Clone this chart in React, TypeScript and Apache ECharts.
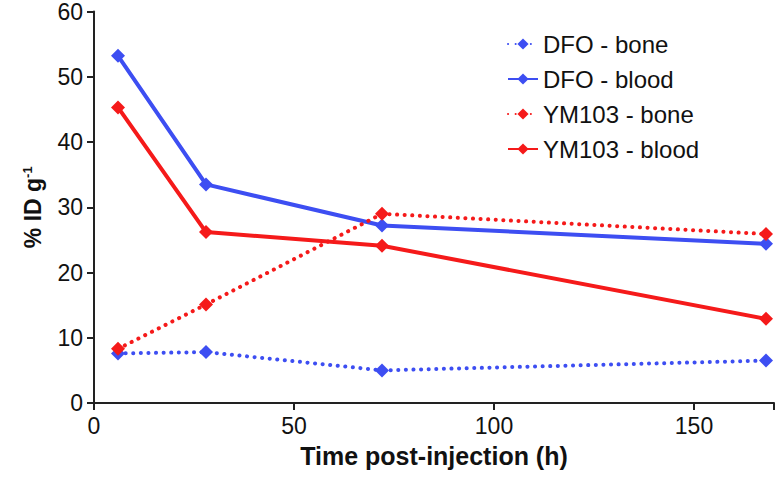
import React, { useEffect, useRef } from "react";
import * as echarts from "echarts";

const times = [6, 28, 72, 168];
const dfoBone = [7.6, 7.8, 5.0, 6.5];
const dfoBlood = [53.2, 33.5, 27.2, 24.4];
const ymBone = [8.3, 15.1, 29.0, 25.9];
const ymBlood = [45.3, 26.2, 24.1, 12.9];
const xTicks = [0, 50, 100, 150];
const yTicks = [0, 10, 20, 30, 40, 50, 60];

const BLUE = "#3d4ef2";
const RED = "#f51a1a";
const FONT = "Liberation Sans, Arial, Helvetica, sans-serif";

function pairs(vals: number[]) {
  return times.map((t, i) => [t, vals[i]]);
}

export default function App() {
  const ref = useRef<HTMLDivElement>(null);
  useEffect(() => {
    if (!ref.current) return;
    const chart = echarts.init(ref.current, undefined, { renderer: "svg" });
    const mk = (name: string, vals: number[], color: string, dotted: boolean) => ({
      name,
      type: "line",
      data: pairs(vals),
      symbol: "diamond",
      symbolSize: 14,
      itemStyle: { color },
      lineStyle: dotted
        ? { color, width: 4, type: [0.1, 7.5], cap: "round" }
        : { color, width: 4 },
    });
    chart.setOption({
      animation: false,
      textStyle: { fontFamily: FONT },
      grid: { left: 94, top: 10, right: 4, bottom: 82, containLabel: false },
      legend: {
        orient: "vertical",
        left: 502,
        top: 27,
        itemGap: 11,
        itemWidth: 30,
        itemHeight: 14,
        textStyle: { fontSize: 24, color: "#111", fontFamily: FONT },
        data: ["DFO - bone", "DFO - blood", "YM103 - bone", "YM103 - blood"],
      },
      xAxis: {
        type: "value",
        min: 0,
        max: 170,
        interval: 50,
        name: "Time post-injection (h)",
        nameLocation: "middle",
        nameGap: 40,
        nameTextStyle: {
          fontSize: 25,
          fontWeight: "bold",
          color: "#111",
          fontFamily: FONT,
        },
        axisLine: { show: true, lineStyle: { color: "#222", width: 2 } },
        axisTick: { show: true, length: 7, lineStyle: { color: "#222", width: 2 } },
        axisLabel: {
          fontSize: 23,
          color: "#111",
          margin: 11,
          fontFamily: FONT,
          formatter: (v: number) => (xTicks.includes(v) ? String(v) : ""),
        },
        splitLine: { show: false },
      },
      yAxis: {
        type: "value",
        min: 0,
        max: 60,
        interval: 10,
        name: "% ID g{sup|-1}",
        nameLocation: "middle",
        nameGap: 50,
        nameRotate: 90,
        nameTextStyle: {
          fontSize: 23,
          fontWeight: "bold",
          color: "#111",
          fontFamily: FONT,
          rich: {
            sup: { fontSize: 13, fontWeight: "bold", verticalAlign: "top", padding: [0, 0, 10, 0], color: "#111" },
          },
        },
        axisLine: { show: true, lineStyle: { color: "#222", width: 2 } },
        axisTick: { show: true, length: 7, lineStyle: { color: "#222", width: 2 } },
        axisLabel: {
          fontSize: 23,
          color: "#111",
          margin: 11,
          fontFamily: FONT,
          formatter: (v: number) => (yTicks.includes(v) ? String(v) : ""),
        },
        splitLine: { show: false },
      },
      series: [
        mk("DFO - bone", dfoBone, BLUE, true),
        mk("DFO - blood", dfoBlood, BLUE, false),
        mk("YM103 - bone", ymBone, RED, true),
        mk("YM103 - blood", ymBlood, RED, false),
      ],
    });
    return () => chart.dispose();
  }, []);
  return <div ref={ref} style={{ width: 778, height: 485, position: "absolute", left: 0, top: 0 }} />;
}
